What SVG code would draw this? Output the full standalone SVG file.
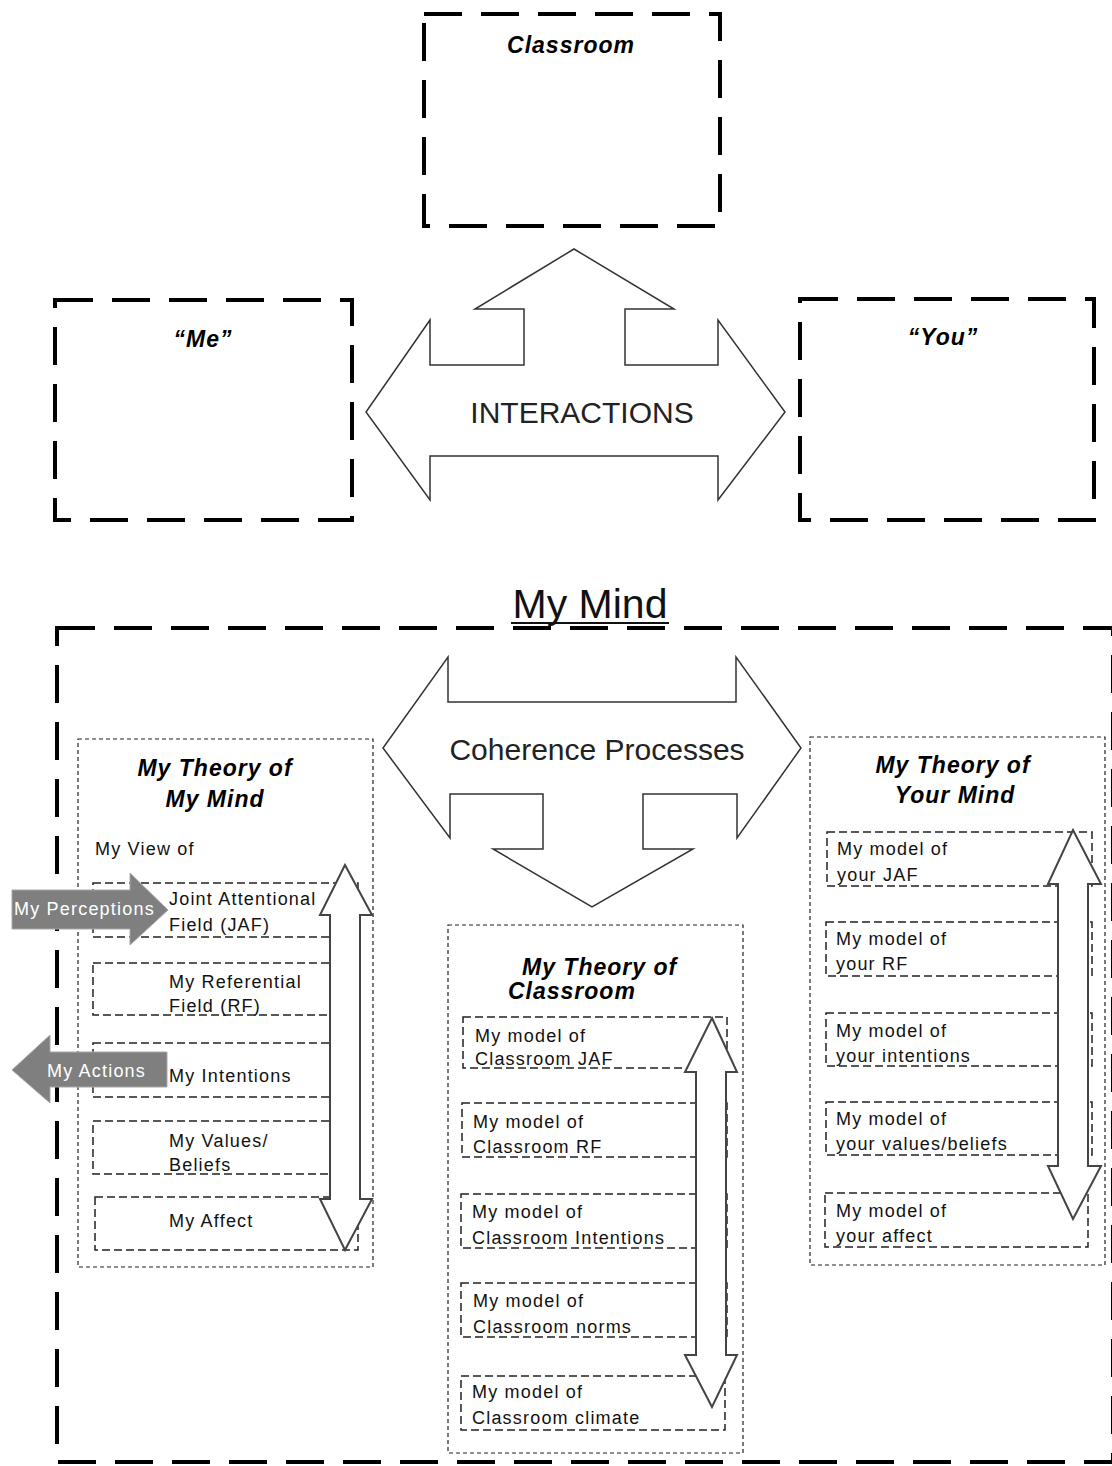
<svg xmlns="http://www.w3.org/2000/svg" width="1112" height="1466" viewBox="0 0 1112 1466">
<style>
.bold{fill:none;stroke:#000;stroke-width:4;stroke-dasharray:38 19}
.col{fill:none;stroke:#222;stroke-width:1.2;stroke-dasharray:4 3}
.sub{fill:none;stroke:#222;stroke-width:1.5;stroke-dasharray:8 4}
.blk{fill:#fff;stroke:#333;stroke-width:1.5;stroke-linejoin:miter}
.vt{fill:#fff;stroke:#444;stroke-width:2}
.gr{fill:#7f7f7f;stroke:#a8a8a8;stroke-width:1}
.t{font-family:"Liberation Sans",Arial,sans-serif;font-size:18px;letter-spacing:1.2px;fill:#111}
.tw{font-family:"Liberation Sans",Arial,sans-serif;font-size:18px;letter-spacing:1.2px;fill:#fff}
.h{font-family:"Liberation Sans",Arial,sans-serif;font-size:23px;font-weight:bold;font-style:italic;letter-spacing:1px;fill:#000}
.big{font-family:"Liberation Sans",Arial,sans-serif;font-size:30px;fill:#222}
</style>
<rect width="1112" height="1466" fill="#fff"/>

<g id="classroom">
<rect class="bold" x="424" y="14" width="296" height="212"/>
<text class="h" x="571" y="53" text-anchor="middle">Classroom</text>
</g>

<g id="me">
<rect class="bold" x="55" y="300" width="297" height="220"/>
<text class="h" x="203" y="347" text-anchor="middle">“Me”</text>
</g>

<g id="you">
<rect class="bold" x="800" y="299" width="294" height="221"/>
<text class="h" x="943" y="345" text-anchor="middle">“You”</text>
</g>

<g id="my-mind">
<rect class="bold" x="57" y="628" width="1056" height="834"/>
<text x="590" y="618" text-anchor="middle" font-family="Liberation Sans, Arial, sans-serif" font-size="41" fill="#111">My Mind</text>
<line x1="511" y1="623" x2="669" y2="623" stroke="#111" stroke-width="2"/>
</g>

<g id="theory-my-mind">
<rect class="col" x="78" y="739" width="295" height="528"/>
<text class="h" x="215" y="776" text-anchor="middle">My Theory of</text>
<text class="h" x="215" y="807" text-anchor="middle">My Mind</text>
<text class="t" x="95" y="855">My View of</text>
<g id="my-jaf"><rect class="sub" x="93" y="883" width="265" height="54"/>
<text class="t" x="169" y="905">Joint Attentional</text><text class="t" x="169" y="931">Field (JAF)</text></g>
<g id="my-rf"><rect class="sub" x="93" y="963" width="265" height="52"/>
<text class="t" x="169" y="988">My Referential</text><text class="t" x="169" y="1012">Field (RF)</text></g>
<g id="my-intentions"><rect class="sub" x="93" y="1043" width="265" height="54"/>
<text class="t" x="169" y="1082">My Intentions</text></g>
<g id="my-values"><rect class="sub" x="93" y="1121" width="265" height="53"/>
<text class="t" x="169" y="1147">My Values/</text><text class="t" x="169" y="1171">Beliefs</text></g>
<g id="my-affect"><rect class="sub" x="95" y="1197" width="263" height="53"/>
<text class="t" x="169" y="1227">My Affect</text></g>
</g>

<g id="theory-classroom">
<rect class="col" x="448" y="925" width="295" height="528"/>
<text class="h" x="522" y="975">My Theory of</text>
<text class="h" x="508" y="999">Classroom</text>
<g id="cl-jaf"><rect class="sub" x="463" y="1017" width="264" height="51"/>
<text class="t" x="475" y="1042">My model of</text><text class="t" x="475" y="1065">Classroom JAF</text></g>
<g id="cl-rf"><rect class="sub" x="462" y="1103" width="265" height="54"/>
<text class="t" x="473" y="1128">My model of</text><text class="t" x="473" y="1153">Classroom RF</text></g>
<g id="cl-intentions"><rect class="sub" x="461" y="1194" width="266" height="54"/>
<text class="t" x="472" y="1218">My model of</text><text class="t" x="472" y="1244">Classroom Intentions</text></g>
<g id="cl-norms"><rect class="sub" x="461" y="1283" width="266" height="54"/>
<text class="t" x="473" y="1307">My model of</text><text class="t" x="473" y="1333">Classroom norms</text></g>
<g id="cl-climate"><rect class="sub" x="461" y="1376" width="264" height="54"/>
<text class="t" x="472" y="1398">My model of</text><text class="t" x="472" y="1424">Classroom climate</text></g>
</g>

<g id="theory-your-mind">
<rect class="col" x="810" y="737" width="295" height="528"/>
<text class="h" x="953" y="773" text-anchor="middle">My Theory of</text>
<text class="h" x="955" y="803" text-anchor="middle">Your Mind</text>
<g id="yr-jaf"><rect class="sub" x="827" y="832" width="265" height="54"/>
<text class="t" x="837" y="855">My model of</text><text class="t" x="837" y="881">your JAF</text></g>
<g id="yr-rf"><rect class="sub" x="826" y="922" width="266" height="54"/>
<text class="t" x="836" y="945">My model of</text><text class="t" x="836" y="970">your RF</text></g>
<g id="yr-intentions"><rect class="sub" x="826" y="1013" width="266" height="53"/>
<text class="t" x="836" y="1037">My model of</text><text class="t" x="836" y="1062">your intentions</text></g>
<g id="yr-values"><rect class="sub" x="826" y="1102" width="266" height="53"/>
<text class="t" x="836" y="1125">My model of</text><text class="t" x="836" y="1150">your values/beliefs</text></g>
<g id="yr-affect"><rect class="sub" x="825" y="1193" width="263" height="54"/>
<text class="t" x="836" y="1217">My model of</text><text class="t" x="836" y="1242">your affect</text></g>
</g>

<g id="connectors">
<g id="interactions">
<polygon class="blk" points="574,249 674,309 625,309 625,365 718,365 718,320 785,412 718,500 718,456 430,456 430,500 366,412 430,320 430,365 524,365 524,309 475,309"/>
<text class="big" x="582" y="423" text-anchor="middle">INTERACTIONS</text>
</g>
<g id="coherence">
<polygon class="blk" points="448,657 448,702 736,702 736,657 801,748 737,838 737,794 643,794 643,849 693,849 592,907 493,849 543,849 543,794 450,794 450,838 383,748"/>
<text class="big" x="597" y="760" text-anchor="middle">Coherence Processes</text>
</g>
<polygon class="vt" points="345,865 372,915 360,915 360,1199 372,1199 345,1250 320,1199 330,1199 330,915 320,915"/>
<polygon class="vt" points="712,1018 737,1072 726,1072 726,1355 737,1355 712,1407 685,1355 696,1355 696,1072 685,1072"/>
<polygon class="vt" points="1073,830 1101,884 1088,884 1088,1166 1101,1166 1073,1219 1048,1166 1058,1166 1058,884 1048,884"/>
<g id="perceptions">
<polygon class="gr" points="12,890 130,890 130,873 168,910 130,945 130,929 12,929"/>
<text class="tw" x="14" y="915">My Perceptions</text>
</g>
<g id="actions">
<polygon class="gr" points="12,1070 50,1035 50,1052 167,1052 167,1087 50,1087 50,1103"/>
<text class="tw" x="47" y="1077">My Actions</text>
</g>
</g>
</svg>
